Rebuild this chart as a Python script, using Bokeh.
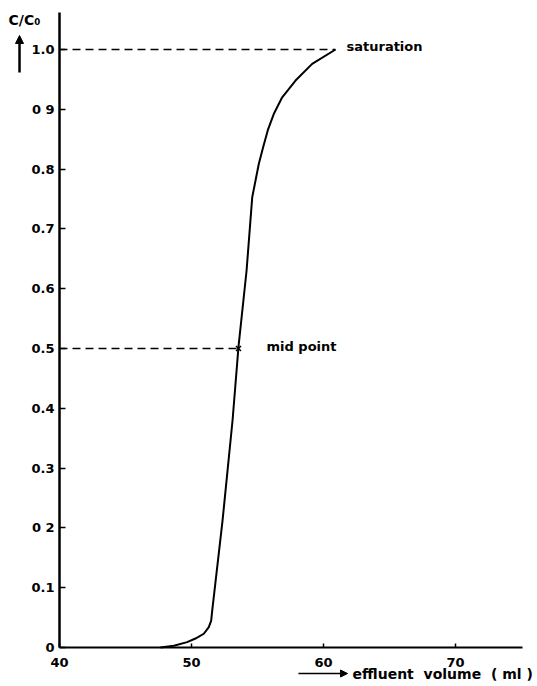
from bokeh.plotting import figure
from bokeh.models import Range1d, Label, Arrow, NormalHead, FixedTicker
from bokeh.embed import file_html
from bokeh.resources import INLINE

# data
volume = [47.65, 48.66, 49.67, 50.30, 50.93, 51.31, 51.49, 51.57, 52.35, 53.11, 53.56,
          54.17, 54.60, 54.85, 55.10, 55.43, 55.78, 56.23, 56.87, 57.88, 59.14, 60.91]
conc = [0.0, 0.003, 0.009, 0.015, 0.023, 0.034, 0.045, 0.062, 0.212, 0.380, 0.503,
        0.630, 0.753, 0.781, 0.809, 0.837, 0.865, 0.892, 0.920, 0.948, 0.976, 1.0]
x_ticks = [40, 50, 60, 70]
y_ticks = [0.0, 0.1, 0.2, 0.3, 0.4, 0.5, 0.6, 0.7, 0.8, 0.9, 1.0]
y_labels = ["0", "0.1", "0 2", "0.3", "0.4", "0.5", "0.6", "0.7", "0.8", "0 9", "1.0"]
mid_x, mid_y = 53.56, 0.5
sat_x, sat_y = 60.91, 1.0

FONT = "DejaVu Sans"

p = figure(width=537, height=686, output_backend="svg", toolbar_location=None,
           x_range=Range1d(35.53, 76.21), y_range=Range1d(-0.0652, 1.0819),
           min_border_left=0, min_border_right=0, min_border_top=0, min_border_bottom=0)
p.outline_line_color = None
p.xgrid.visible = False
p.ygrid.visible = False

xa = p.xaxis[0]
ya = p.yaxis[0]
xa.fixed_location = 0
ya.fixed_location = 40
xa.bounds = (40, 75.1)
ya.bounds = (0, 1.062)
for ax in (xa, ya):
    ax.axis_line_color = "black"
    ax.major_tick_out = 0
    ax.major_tick_line_width = 1.5
    ax.major_tick_line_color = "black"
    ax.minor_tick_line_color = None
    ax.major_label_text_font = FONT
    ax.major_label_text_font_style = "bold"
    ax.major_label_text_font_size = "13px"
    ax.major_label_text_color = "black"
xa.axis_line_width = 2
ya.axis_line_width = 2.5
xa.major_tick_in = 4
ya.major_tick_in = 6
xa.major_label_standoff = 10
ya.major_label_standoff = 5

xa.ticker = FixedTicker(ticks=x_ticks)
ya.ticker = FixedTicker(ticks=y_ticks)
ya.major_label_overrides = {t: l for t, l in zip(y_ticks, y_labels)}

# dashed guide lines
p.line([40, sat_x], [sat_y, sat_y], line_dash="8 5", line_color="black", line_width=1.5)
p.line([40, mid_x], [mid_y, mid_y], line_dash="8 5", line_color="black", line_width=1.5)

# breakthrough curve
p.line(volume, conc, line_color="black", line_width=2, line_join="round")
p.scatter([mid_x], [mid_y], marker="x", size=7, line_color="black", line_width=1.5)

def lab(x, y, t, size="13px"):
    p.add_layout(Label(x=x, y=y, text=t, text_font=FONT, text_font_style="bold",
                       text_font_size=size, text_align="left", text_baseline="middle",
                       text_color="black"))

lab(61.74, 1.005, "saturation")
lab(55.68, 0.503, "mid point")
lab(36.14, 1.0485, "C/C\u2080", size="14px")
lab(62.20, -0.0435, "effluent\u00a0\u00a0volume\u00a0\u00a0( ml )", size="14px")

p.add_layout(Arrow(end=NormalHead(size=8, fill_color="black", line_color="black"),
                   x_start=36.97, y_start=0.9615, x_end=36.97, y_end=1.0234,
                   line_width=2.5, line_color="black"))
p.add_layout(Arrow(end=NormalHead(size=7, fill_color="black", line_color="black"),
                   x_start=58.10, y_start=-0.0435, x_end=61.82, y_end=-0.0435,
                   line_width=1.5, line_color="black"))

open("out.html", "w").write(file_html(p, INLINE))
